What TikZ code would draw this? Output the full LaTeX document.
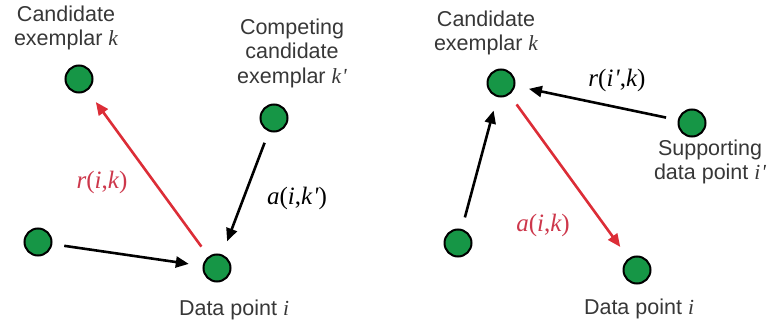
\documentclass[tikz,border=0pt]{standalone}
\usepackage{fontspec}
\setmainfont{Liberation Sans}
\newfontfamily\tms{Liberation Serif}
\usetikzlibrary{arrows.meta}
\definecolor{dotgreen}{RGB}{22,150,70}
\definecolor{arrred}{RGB}{220,45,55}
\definecolor{lblred}{RGB}{205,55,75}
\definecolor{txtgray}{RGB}{55,55,55}
\newcommand{\vr}[1]{{\tms\itshape #1}}
\tikzset{
  dot/.style={circle,draw=black,line width=2pt,fill=dotgreen,minimum size=27pt,inner sep=0pt},
  lbl/.style={align=center,text=txtgray,font=\fontsize{21.5}{24.5}\selectfont,inner sep=0pt},
  mlbl/.style={font=\tms\fontsize{25}{28}\selectfont,inner sep=0pt},
  conn/.style={line width=2.6pt,-{Triangle[length=13pt,width=11pt]},shorten <=12pt,shorten >=14pt},
  blk/.style={conn,draw=black},
  redc/.style={conn,draw=arrred}
}
\begin{document}
\begin{tikzpicture}[x=1pt,y=-1pt]
\useasboundingbox (0,0) rectangle (768,326);
% left panel
\node[dot] (kL) at (79,79) {};
\node[dot] (kpL) at (274,118) {};
\node[dot] (oL) at (38,242) {};
\node[dot] (iL) at (217,268) {};
\node[lbl] (tkL) at (66,28) {Candidate\\exemplar \vr{k}};
\node[lbl] (tkpL) at (292,53) {Competing\\candidate\\exemplar \vr{k}\kern1pt\vr{'}};
\node[lbl] (tiL) at (234,310) {Data point \vr{i}};
\draw[redc] (iL) -- (kL);
\draw[blk] (kpL) -- (iL);
\draw[blk] (oL) -- (iL);
\node[mlbl,text=lblred] (rL) at (102,182) {\vr{r}(\vr{i},\vr{k})};
\node[mlbl,text=black] (aL) at (297,198) {\vr{a}(\vr{i},\vr{k}\kern1pt\vr{'})};
% right panel
\node[dot] (kR) at (501,83) {};
\node[dot] (spR) at (692,123) {};
\node[dot] (oR) at (458,243) {};
\node[dot] (iR) at (637,270) {};
\node[lbl] (tkR) at (486,33) {Candidate\\exemplar \vr{k}};
\node[lbl] (tspR) at (710,162) {Supporting\\data point \vr{i}\kern1pt\vr{'}};
\node[lbl] (tiR) at (639,309) {Data point \vr{i}};
\draw[blk] (spR) -- (kR);
\draw[blk] (oR) -- (kR);
\draw[redc] (kR) -- (iR);
\node[mlbl,text=black] (rR) at (617,80) {\vr{r}(\vr{i}\kern1pt\vr{'},\vr{k})};
\node[mlbl,text=lblred] (aR) at (543,225) {\vr{a}(\vr{i},\vr{k})};
\end{tikzpicture}
\end{document}
